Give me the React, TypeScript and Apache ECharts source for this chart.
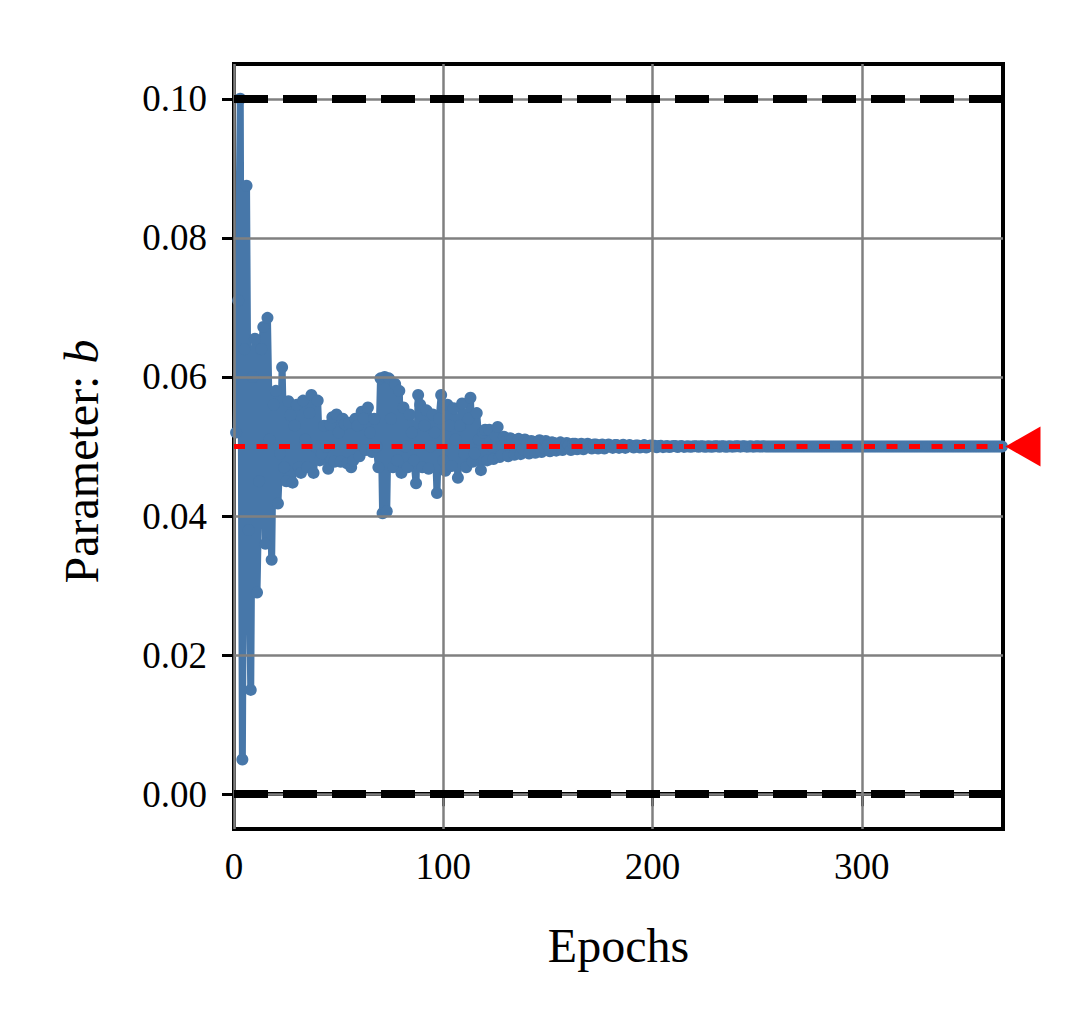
import React, { useEffect, useRef } from "react";
import * as echarts from "echarts";

// ---- data ----
const PARAM_B: number[] = [
  // epochs 1-40
  0.0520, 0.0710, 0.1000, 0.0050, 0.0640, 0.0875, 0.0380, 0.0150, 0.0600, 0.0655,
  0.0290, 0.0450, 0.0640, 0.0672, 0.0360, 0.0685, 0.0510, 0.0337, 0.0560, 0.0580,
  0.0418, 0.0490, 0.0614, 0.0470, 0.0450, 0.0565, 0.0545, 0.0448, 0.0530, 0.0560,
  0.0470, 0.0462, 0.0566, 0.0510, 0.0470, 0.0548, 0.0574, 0.0462, 0.0500, 0.0566,
  // epochs 41-79
  0.0480, 0.0490, 0.0530, 0.0500, 0.0468, 0.0532, 0.0542, 0.0478, 0.0546, 0.0520,
  0.0478, 0.0540, 0.0532, 0.0476, 0.0534, 0.0470, 0.0480, 0.0540, 0.0530, 0.0486,
  0.0550, 0.0540, 0.0495, 0.0556, 0.0520, 0.0492, 0.0540, 0.0500, 0.0470, 0.0598,
  0.0404, 0.0600, 0.0407, 0.0598, 0.0540, 0.0470, 0.0590, 0.0480, 0.0580,
  // epochs 80-130
  0.0462, 0.0556, 0.0500, 0.0470, 0.0546, 0.0520, 0.0480, 0.0447, 0.0574, 0.0560,
  0.0470, 0.0530, 0.0552, 0.0468, 0.0500, 0.0546, 0.0520, 0.0433, 0.0540, 0.0574,
  0.0480, 0.0465, 0.0560, 0.0530, 0.0472, 0.0555, 0.0510, 0.0455, 0.0530, 0.0562,
  0.0490, 0.0470, 0.0540, 0.0570, 0.0478, 0.0490, 0.0548, 0.0510, 0.0466, 0.0520,
  0.0524, 0.0480, 0.0524, 0.0500, 0.0482, 0.0515, 0.0528, 0.0485, 0.0488, 0.0514,
  0.0508,
  // epochs 131-200
  0.0486, 0.0512, 0.0510, 0.0488, 0.0504, 0.0511, 0.0489, 0.0496, 0.0510, 0.0505,
  0.0490, 0.0508, 0.0507, 0.0491, 0.0503, 0.0509, 0.0492, 0.0498, 0.0508, 0.0502,
  0.0493, 0.0506, 0.0505, 0.0494, 0.0502, 0.0506, 0.0495, 0.0499, 0.0505, 0.0502,
  0.0495, 0.0504, 0.0504, 0.0496, 0.0501, 0.0504, 0.0496, 0.0499, 0.0504, 0.0501,
  0.0497, 0.0503, 0.0503, 0.0497, 0.0501, 0.0503, 0.0497, 0.0500, 0.0503, 0.0501,
  0.0498, 0.0502, 0.0502, 0.0498, 0.0500, 0.05025, 0.0498, 0.0500, 0.0502, 0.0501,
  0.04985, 0.05015, 0.05015, 0.04985, 0.0500, 0.0502, 0.04985, 0.0500, 0.05015, 0.0501,
  // epochs 201-370
  0.05010, 0.04990, 0.05008, 0.05009, 0.04991, 0.05000, 0.05008, 0.04992, 0.05001, 0.05007,
  0.05006, 0.04993, 0.05005, 0.05006, 0.04994, 0.05001, 0.05005, 0.04995, 0.05000, 0.05005,
  0.05004, 0.04996, 0.05004, 0.05004, 0.04996, 0.05001, 0.05004, 0.04997, 0.05000, 0.05003,
  0.05003, 0.04997, 0.05003, 0.05003, 0.04997, 0.05000, 0.05003, 0.04998, 0.05000, 0.05002,
  0.05002, 0.04998, 0.05002, 0.05002, 0.04998, 0.05000, 0.05002, 0.04998, 0.05000, 0.05002,
  0.05001, 0.04999, 0.05002, 0.05001, 0.04999, 0.05000, 0.05001, 0.04999, 0.05000, 0.05001,
  0.05001, 0.04999, 0.05001, 0.05001, 0.04999, 0.05000, 0.05001, 0.04999, 0.05000, 0.05001,
  0.05001, 0.04999, 0.05001, 0.05001, 0.04999, 0.05000, 0.05001, 0.04999, 0.05000, 0.05001,
  0.05001, 0.05000, 0.05001, 0.05001, 0.04999, 0.05000, 0.05001, 0.05000, 0.05000, 0.05001,
  0.05000, 0.05000, 0.05001, 0.05000, 0.04999, 0.05000, 0.05001, 0.05000, 0.05000, 0.05000,
  0.05000, 0.05000, 0.05001, 0.05000, 0.05000, 0.05000, 0.05000, 0.05000, 0.05000, 0.05000,
  0.05000, 0.05000, 0.05000, 0.05000, 0.05000, 0.05000, 0.05000, 0.05000, 0.05000, 0.05000,
  0.05000, 0.05000, 0.05000, 0.05000, 0.05000, 0.05000, 0.05000, 0.05000, 0.05000, 0.05000,
  0.05000, 0.05000, 0.05000, 0.05000, 0.05000, 0.05000, 0.05000, 0.05000, 0.05000, 0.05000,
  0.05000, 0.05000, 0.05000, 0.05000, 0.05000, 0.05000, 0.05000, 0.05000, 0.05000, 0.05000,
  0.05000, 0.05000, 0.05000, 0.05000, 0.05000, 0.05000, 0.05000, 0.05000, 0.05000, 0.05000,
  0.05000, 0.05000, 0.05000, 0.05000, 0.05000, 0.05000, 0.05000, 0.05000, 0.05000, 0.05000,
];
const FIRST_EPOCH = 1;
const X_TICKS = [0, 100, 200, 300];
const Y_TICKS = [0, 0.02, 0.04, 0.06, 0.08, 0.1];
const X_MIN = 0;
const X_MAX = 367.5;
const Y_MIN = -0.005;
const Y_MAX = 0.105;
const BOUNDS = [0, 0.1];
const TRUE_VALUE = 0.05;
const X_LABEL = "Epochs";
const Y_LABEL_TEXT = "Parameter: ";
const Y_LABEL_SYMBOL = "b";

const FONT = "'Liberation Serif', 'DejaVu Serif', serif";
const BLUE = "#4777a9";

export default function App() {
  const ref = useRef<HTMLDivElement>(null);
  useEffect(() => {
    if (!ref.current) return;
    const chart = echarts.init(ref.current, null, { renderer: "svg" });
    const seriesData = PARAM_B.map((v, i) => [i + FIRST_EPOCH, v]);
    const gridLines = [
      ...Y_TICKS.map((v) => ({ yAxis: v })),
      ...X_TICKS.map((v) => ({ xAxis: v })),
    ];
    chart.setOption({
      animation: false,
      backgroundColor: "#ffffff",
      grid: {
        left: 234,
        right: 77,
        top: 64,
        bottom: 200,
        show: true,
        borderColor: "#000",
        borderWidth: 4,
        backgroundColor: "transparent",
      },
      xAxis: {
        type: "value",
        min: X_MIN,
        max: X_MAX,
        name: X_LABEL,
        nameLocation: "middle",
        nameGap: 92,
        nameTextStyle: { fontFamily: FONT, fontSize: 48, color: "#000" },
        axisLine: { show: true, lineStyle: { color: "#000", width: 4 } },
        axisTick: {
          show: true,
          length: 12,
          customValues: X_TICKS,
          lineStyle: { color: "#000", width: 3 },
        },
        axisLabel: {
          customValues: X_TICKS,
          fontFamily: FONT,
          fontSize: 37,
          color: "#000",
          margin: 19,
          formatter: (v: number) => String(v),
        },
        splitLine: { show: false },
      },
      yAxis: {
        type: "value",
        min: Y_MIN,
        max: Y_MAX,
        name: Y_LABEL_TEXT + "{i|" + Y_LABEL_SYMBOL + "}",
        nameLocation: "middle",
        nameGap: 129,
        nameRotate: 90,
        nameTextStyle: {
          fontFamily: FONT,
          fontSize: 48,
          color: "#000",
          padding: [0, 30, 0, 0],
          rich: { i: { fontFamily: FONT, fontSize: 48, fontStyle: "italic", color: "#000" } },
        },
        axisLine: { show: true, lineStyle: { color: "#000", width: 4 } },
        axisTick: {
          show: true,
          length: 12,
          customValues: Y_TICKS,
          lineStyle: { color: "#000", width: 3 },
        },
        axisLabel: {
          customValues: Y_TICKS,
          fontFamily: FONT,
          fontSize: 37,
          color: "#000",
          margin: 27,
          formatter: (v: number) => v.toFixed(2),
        },
        splitLine: { show: false },
      },
      series: [
        {
          type: "line",
          name: "grid",
          data: [],
          z: 1,
          silent: true,
          markLine: {
            silent: true,
            symbol: "none",
            label: { show: false },
            lineStyle: { color: "#808080", width: 2.5, type: "solid" },
            data: gridLines,
          },
        },
        {
          type: "line",
          name: "b",
          data: seriesData,
          z: 2,
          showAllSymbol: true,
          symbol: "circle",
          symbolSize: 12,
          lineStyle: { color: BLUE, width: 7 },
          itemStyle: { color: BLUE, opacity: 1 },
        },
        {
          type: "line",
          name: "bounds",
          data: [],
          z: 3,
          silent: true,
          markLine: {
            silent: true,
            symbol: "none",
            label: { show: false },
            lineStyle: { color: "#000", width: 8, type: [34, 15] },
            data: BOUNDS.map((v) => ({ yAxis: v })),
          },
        },
        {
          type: "line",
          name: "true",
          data: [],
          z: 4,
          silent: true,
          markLine: {
            silent: true,
            symbol: "none",
            label: { show: false },
            lineStyle: { color: "#ff0000", width: 5, type: [11, 11.5] },
            data: [{ yAxis: TRUE_VALUE }],
          },
        },
        {
          type: "scatter",
          name: "marker",
          data: [[X_MAX, TRUE_VALUE]],
          clip: false,
          z: 5,
          silent: true,
          symbol: "triangle",
          symbolSize: [40, 35],
          symbolRotate: 90,
          symbolOffset: [20, 0],
          itemStyle: { color: "#ff0000", opacity: 1 },
        },
      ],
    });
    return () => chart.dispose();
  }, []);
  return (
    <div
      ref={ref}
      style={{ position: "absolute", left: 0, top: 0, width: 1080, height: 1029, background: "#fff" }}
    />
  );
}
